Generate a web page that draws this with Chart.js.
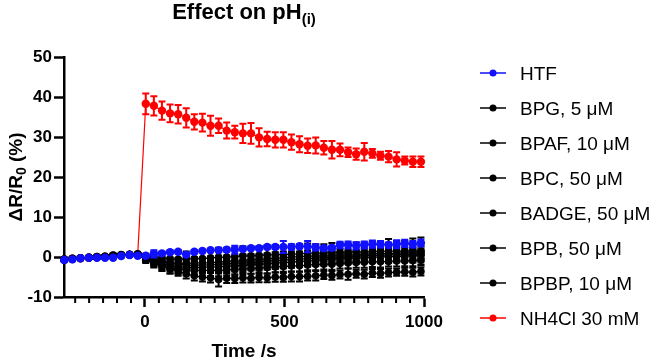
<!DOCTYPE html>
<html>
<head>
<meta charset="utf-8">
<script src="https://cdn.jsdelivr.net/npm/chart.js@4.4.1/dist/chart.umd.min.js"></script>
<style>
  body { margin: 0; background: #fff; }
  #wrap { width: 656px; height: 360px; position: relative; }
</style>
</head>
<body>
<div id="wrap"><canvas id="myChart"></canvas></div>
<script>
'use strict';

// time points (s)
const times = [-289, -260, -231, -201, -172, -143, -114, -85, -55, -26,
  3, 32, 61, 90, 119, 148, 177, 206, 235, 264, 293, 322, 351, 380, 409, 438, 467, 496, 525, 554,
  583, 612, 641, 670, 699, 728, 757, 786, 815, 844, 873, 902, 931, 960, 989];

const xTicks = [0, 500, 1000];
const yTicks = [-10, 0, 10, 20, 30, 40, 50];

const labels = ['HTF', 'BPG, 5 μM', 'BPAF, 10 μM', 'BPC, 50 μM', 'BADGE, 50 μM',
  'BPB, 50 μM', 'BPBP, 10 μM', 'NH4Cl 30 mM'];

// mean values (ΔR/R0 %)
const htf = [-0.75, -0.6, -0.3, -0.2, -0.2, -0.2, -0.2, 0.25, 0.5, 0.3,
  0.3, 0.8, 0.9, 1.2, 1.3, 0.6, 1.3, 1.5, 1.7, 1.7, 1.8, 1.8, 2.0, 2.2, 2.2, 2.5, 2.5, 2.5, 2.5, 2.7,
  2.6, 2.4, 2.2, 2.3, 3.0, 3.0, 2.8, 3.0, 3.2, 3.2, 3.0, 3.2, 3.4, 3.2, 3.5];
const bpg = [-0.6, -0.4, -0.2, -0.1, 0.0, 0.1, 0.5, 0.3, 0.6, 0.7,
  -0.3, -0.8, -1.2, -1.5, -1.6, -1.6, -1.5, -1.5, -1.4, -1.3, -1.1, -1.0, -0.9, -0.7, -0.6, -0.5, -0.3, -0.2, 0.0, 0.1,
  0.2, 0.3, 0.2, 0.4, 0.5, 0.6, 0.5, 0.7, 0.8, 0.9, 0.8, 1.0, 1.1, 1.0, 1.2];
const bpaf = [-0.7, -0.5, -0.3, -0.2, -0.1, 0.0, 0.3, 0.6, 0.5, 0.6,
  -0.8, -1.6, -2.3, -2.8, -3.0, -3.2, -3.3, -3.4, -3.3, -3.4, -3.2, -3.1, -3.0, -2.9, -2.8, -2.6, -2.5, -2.4, -2.2, -2.2,
  -2.0, -1.9, -1.8, -1.8, -1.6, -1.5, -1.4, -1.3, -1.2, -1.2, -1.1, -1.0, -1.0, -0.9, -0.8];
const bpc = [-0.5, -0.3, -0.3, -0.1, 0.0, 0.2, 0.4, 0.5, 0.7, 0.8,
  0.2, 0.0, -0.3, -0.5, -0.6, -0.5, -0.4, -0.4, -0.2, -0.1, 0.0, 0.1, 0.3, 0.3, 0.4, 0.5, 0.6, 0.6, 0.7, 0.8,
  1.0, 0.9, 1.0, 1.1, 1.2, 1.2, 1.3, 1.2, 1.4, 1.4, 1.5, 1.4, 1.5, 1.6, 1.5];
const badge = [-0.8, -0.6, -0.4, -0.2, -0.1, 0.0, 0.2, 0.4, 0.5, 0.5,
  -0.5, -1.2, -1.8, -2.2, -2.5, -2.6, -2.7, -2.6, -2.5, -2.5, -2.3, -2.2, -2.1, -1.9, -1.8, -1.7, -1.5, -1.4, -1.3, -1.1,
  -1.0, -0.9, -0.7, -0.6, -0.5, -0.4, -0.3, -0.2, -0.1, 0.0, 0.1, 0.1, 0.2, 0.3, 0.3];
const bpb = [-0.6, -0.5, -0.2, -0.1, 0.1, 0.1, 0.3, 0.5, 0.6, 0.7,
  -0.2, -0.6, -1.0, -1.4, -1.8, -2.0, -2.1, -2.0, -2.0, -1.8, -1.7, -1.6, -1.4, -1.3, -1.2, -1.0, -0.9, -0.8, -0.6, -0.5,
  -0.4, -0.3, -0.2, -0.1, 0.0, 0.1, 0.2, 0.3, 0.4, 0.4, 0.5, 0.6, 0.6, 0.7, 0.8];
const bpbp = [-0.7, -0.4, -0.3, -0.2, 0.0, 0.0, 0.2, 0.4, 0.6, 0.6,
  -0.5, -1.5, -2.3, -3.0, -3.6, -4.2, -4.7, -5.0, -5.2, -5.6, -5.3, -5.4, -5.2, -5.3, -5.1, -5.2, -5.0, -5.1, -4.9, -4.9,
  -4.8, -4.7, -4.5, -4.6, -4.4, -4.3, -4.2, -4.3, -4.0, -4.1, -3.9, -3.8, -3.7, -3.8, -3.6];
const nh4cl = [-0.6, -0.4, -0.3, -0.2, 0.0, 0.1, 0.2, 0.4, 0.6, 0.5,
  38.3, 37.8, 36.6, 35.9, 35.7, 34.8, 33.8, 33.6, 32.8, 32.8, 31.6, 31.2, 30.9, 30.9, 29.9, 29.5, 29.3, 29.3, 28.7, 28.2,
  27.8, 27.9, 27.3, 26.8, 26.8, 26.2, 25.7, 26.3, 25.9, 25.3, 25.1, 24.4, 24.1, 23.8, 23.8];

// error bars (SEM)
const htfErr = [0.3, 0.3, 0.2, 0.2, 0.2, 0.2, 0.2, 0.3, 0.3, 0.3,
  0.3, 0.9, 0.4, 0.4, 0.4, 0.3, 0.4, 0.4, 0.3, 0.4, 0.5, 1.0, 0.4, 0.4, 0.4, 0.5, 0.5, 1.5, 0.6, 0.5,
  1.4, 0.8, 0.5, 0.5, 0.8, 0.9, 0.9, 0.9, 0.9, 0.8, 0.6, 1.0, 0.9, 0.8, 0.9];
const bpgErr = [0.3, 0.3, 0.3, 0.3, 0.3, 0.3, 0.4, 0.3, 0.3, 0.3,
  0.6, 0.9, 1.1, 1.3, 1.4, 1.5, 1.5, 1.4, 1.5, 1.6, 1.5, 1.4, 1.5, 1.4, 1.3, 1.4, 1.5, 1.6, 1.4, 1.3,
  1.4, 1.5, 1.3, 1.4, 1.5, 1.3, 1.4, 1.5, 1.4, 1.3, 1.4, 1.5, 1.3, 1.4, 1.5];
const bpafErr = [0.3, 0.3, 0.3, 0.3, 0.3, 0.3, 0.3, 0.3, 0.3, 0.3,
  0.7, 1.0, 1.2, 1.3, 1.4, 1.4, 1.5, 1.4, 1.5, 1.4, 1.4, 1.5, 1.4, 1.3, 1.4, 1.5, 1.4, 1.3, 1.4, 1.4,
  1.3, 1.4, 1.3, 1.4, 1.3, 1.4, 1.3, 1.4, 1.3, 1.4, 1.3, 1.4, 1.3, 1.4, 1.3];
const bpcErr = [0.3, 0.3, 0.3, 0.3, 0.3, 0.3, 0.3, 0.3, 0.3, 0.3,
  0.6, 1.2, 1.5, 1.7, 1.8, 1.9, 2.0, 2.0, 2.1, 2.4, 2.2, 2.3, 2.4, 2.2, 2.3, 2.2, 2.3, 2.2, 2.4, 2.3,
  2.4, 2.3, 2.2, 2.4, 2.3, 2.2, 2.3, 2.4, 2.5, 2.3, 3.0, 2.6, 2.5, 3.0, 3.4];
const badgeErr = [0.3, 0.3, 0.3, 0.3, 0.3, 0.3, 0.3, 0.3, 0.3, 0.3,
  0.6, 1.0, 1.2, 1.4, 1.5, 1.5, 1.6, 1.5, 1.5, 1.6, 1.5, 1.4, 1.5, 1.4, 1.5, 1.4, 1.5, 1.4, 1.4, 1.3,
  1.4, 1.3, 1.4, 1.3, 1.4, 1.3, 1.4, 1.3, 1.3, 1.4, 1.3, 1.4, 1.3, 1.3, 1.4];
const bpbErr = [0.3, 0.3, 0.3, 0.3, 0.3, 0.3, 0.3, 0.3, 0.3, 0.3,
  0.5, 0.9, 1.1, 1.3, 1.4, 1.5, 1.5, 1.6, 1.5, 1.5, 1.4, 1.5, 1.6, 1.5, 1.4, 1.5, 1.4, 1.5, 1.4, 1.4,
  1.3, 1.4, 1.5, 1.4, 1.3, 1.4, 1.3, 1.4, 1.3, 1.4, 1.3, 1.4, 1.3, 1.4, 1.3];
const bpbpErr = [0.3, 0.3, 0.3, 0.3, 0.3, 0.3, 0.3, 0.3, 0.3, 0.3,
  0.6, 0.9, 1.0, 1.1, 1.1, 1.2, 1.2, 1.1, 1.2, 1.8, 1.2, 1.1, 1.2, 1.1, 1.2, 1.1, 1.2, 1.1, 1.2, 1.2,
  1.1, 1.2, 1.0, 1.1, 1.0, 1.4, 1.0, 1.1, 1.0, 1.1, 1.0, 0.9, 1.0, 1.1, 1.0];
const nh4clErr = [0.3, 0.3, 0.3, 0.3, 0.3, 0.3, 0.3, 0.3, 0.3, 0.3,
  2.6, 2.4, 2.3, 2.2, 2.3, 2.4, 1.9, 2.2, 2.5, 1.8, 2.0, 1.6, 2.4, 2.6, 2.3, 1.8, 1.9, 1.9, 1.9, 2.0,
  1.8, 2.0, 1.7, 2.2, 1.6, 1.2, 1.4, 2.2, 1.1, 1.0, 1.4, 1.8, 1.0, 1.3, 1.3];

const seriesVals = [htf, bpg, bpaf, bpc, badge, bpb, bpbp, nh4cl];
const seriesErr = [htfErr, bpgErr, bpafErr, bpcErr, badgeErr, bpbErr, bpbpErr, nh4clErr];
const colors = ['#1010ff', '#000000', '#000000', '#000000', '#000000', '#000000', '#000000', '#ff0000'];

const FONT = '"Liberation Sans", Arial, sans-serif';
Chart.defaults.font.family = FONT;
Chart.defaults.color = '#000';

// 에러바 (데이터셋 그리기 직전에)
const errorBars = {
    id: 'errorBars',
    beforeDatasetDraw(chart, args) {
        const i = args.index;
        const errs = seriesErr[i];
        const y = chart.scales.y;
        const ctx = chart.ctx;
        ctx.save();
        ctx.strokeStyle = colors[i];
        ctx.lineWidth = 2;
        args.meta.data.forEach(function (pt, k) {
            const v = seriesVals[i][k];
            const top = y.getPixelForValue(v + errs[k]);
            const bot = y.getPixelForValue(v - errs[k]);
            ctx.beginPath();
            ctx.moveTo(pt.x, top); ctx.lineTo(pt.x, bot);
            ctx.moveTo(pt.x - 3.5, top); ctx.lineTo(pt.x + 3.5, top);
            ctx.moveTo(pt.x - 3.5, bot); ctx.lineTo(pt.x + 3.5, bot);
            ctx.stroke();
        });
        ctx.restore();
    }
};

// 제목, 축 제목, 작은 눈금, 범례
const decorations = {
    id: 'decorations',
    afterDraw(chart) {
        const ctx = chart.ctx;
        const area = chart.chartArea;
        const x = chart.scales.x;
        ctx.save();

        // minor ticks every 50 s
        ctx.strokeStyle = '#000';
        ctx.lineWidth = 2;
        for (let t = -250; t <= 1000; t += 50) {
            if (t % 500 === 0) continue;
            const px = x.getPixelForValue(t);
            ctx.beginPath();
            ctx.moveTo(px, area.bottom);
            ctx.lineTo(px, area.bottom + 6);
            ctx.stroke();
        }

        // title
        ctx.fillStyle = '#000';
        ctx.textBaseline = 'alphabetic';
        ctx.textAlign = 'left';
        const cx = (area.left + area.right) / 2;
        ctx.font = 'bold 22px ' + FONT;
        const w1 = ctx.measureText('Effect on pH').width;
        ctx.font = 'bold 15px ' + FONT;
        const w2 = ctx.measureText('(i)').width;
        let sx = cx - (w1 + w2) / 2;
        ctx.font = 'bold 22px ' + FONT;
        ctx.fillText('Effect on pH', sx, 19);
        ctx.font = 'bold 15px ' + FONT;
        ctx.fillText('(i)', sx + w1, 24);

        // x title
        ctx.font = 'bold 19px ' + FONT;
        ctx.textAlign = 'center';
        ctx.fillText('Time /s', cx, 357);

        // y title (rotated)
        ctx.save();
        ctx.translate(22, (area.top + area.bottom) / 2);
        ctx.rotate(-Math.PI / 2);
        ctx.textAlign = 'left';
        ctx.font = 'bold 19px ' + FONT;
        const a = ctx.measureText('ΔR/R').width;
        const c = ctx.measureText(' (%)').width;
        ctx.font = 'bold 14px ' + FONT;
        const b = ctx.measureText('0').width;
        let lx = -(a + b + c) / 2;
        ctx.font = 'bold 19px ' + FONT;
        ctx.fillText('ΔR/R', lx, 0);
        ctx.font = 'bold 14px ' + FONT;
        ctx.fillText('0', lx + a, 4);
        ctx.font = 'bold 19px ' + FONT;
        ctx.fillText(' (%)', lx + a + b, 0);
        ctx.restore();

        // legend
        ctx.font = '19px ' + FONT;
        ctx.textAlign = 'left';
        labels.forEach(function (lab, i) {
            const yy = 73 + 35 * i;
            ctx.strokeStyle = colors[i];
            ctx.fillStyle = colors[i];
            ctx.lineWidth = 1.5;
            ctx.beginPath();
            ctx.moveTo(480, yy); ctx.lineTo(506, yy);
            ctx.stroke();
            ctx.beginPath();
            ctx.arc(493, yy, 3.5, 0, Math.PI * 2);
            ctx.fill();
            ctx.fillStyle = '#000';
            ctx.fillText(lab, 520, yy + 7);
        });

        ctx.restore();
    }
};

const datasets = labels.map(function (lab, i) {
    return {
        label: lab,
        data: seriesVals[i].map(function (v, k) { return { x: times[k], y: v }; }),
        borderColor: colors[i],
        backgroundColor: colors[i],
        borderWidth: 1.2,
        pointRadius: i === 0 || i === 7 ? 4.2 : 3.8,
        pointBorderWidth: 0,
        pointBackgroundColor: colors[i],
        showLine: true,
        tension: 0,
        clip: false
    };
});

const config = {
    type: 'line',
    data: { datasets: datasets },
    options: {
        responsive: true,
        maintainAspectRatio: false,
        animation: false,
        layout: { padding: { left: 0, top: 57, right: 232, bottom: 0 } },
        plugins: {
            legend: { display: false },
            title: { display: false },
            tooltip: { enabled: false }
        },
        scales: {
            x: {
                type: 'linear',
                min: -290,
                max: 1000,
                border: { display: true, color: '#000', width: 2.5 },
                grid: { drawOnChartArea: false, drawTicks: true, tickLength: 10, tickWidth: 2.5, tickColor: '#000' },
                afterBuildTicks: function (scale) {
                    scale.ticks = xTicks.map(function (v) { return { value: v }; });
                },
                ticks: {
                    autoSkip: false,
                    maxRotation: 0,
                    padding: 5,
                    color: '#000',
                    font: { size: 17, weight: 'bold' },
                    callback: function (v) { return String(v); }
                },
                afterFit: function (scale) { scale.height = 63; }
            },
            y: {
                min: -10,
                max: 50,
                border: { display: true, color: '#000', width: 2.5 },
                grid: { drawOnChartArea: false, drawTicks: true, tickLength: 10, tickWidth: 2.5, tickColor: '#000' },
                afterBuildTicks: function (scale) {
                    scale.ticks = yTicks.map(function (v) { return { value: v }; });
                },
                ticks: {
                    padding: 2,
                    color: '#000',
                    font: { size: 17, weight: 'bold' },
                    callback: function (v) { return String(v); }
                },
                afterFit: function (scale) { scale.width = 64; }
            }
        }
    },
    plugins: [errorBars, decorations]
};

var myChart = new Chart(document.getElementById('myChart'), config);
</script>
</body>
</html>
